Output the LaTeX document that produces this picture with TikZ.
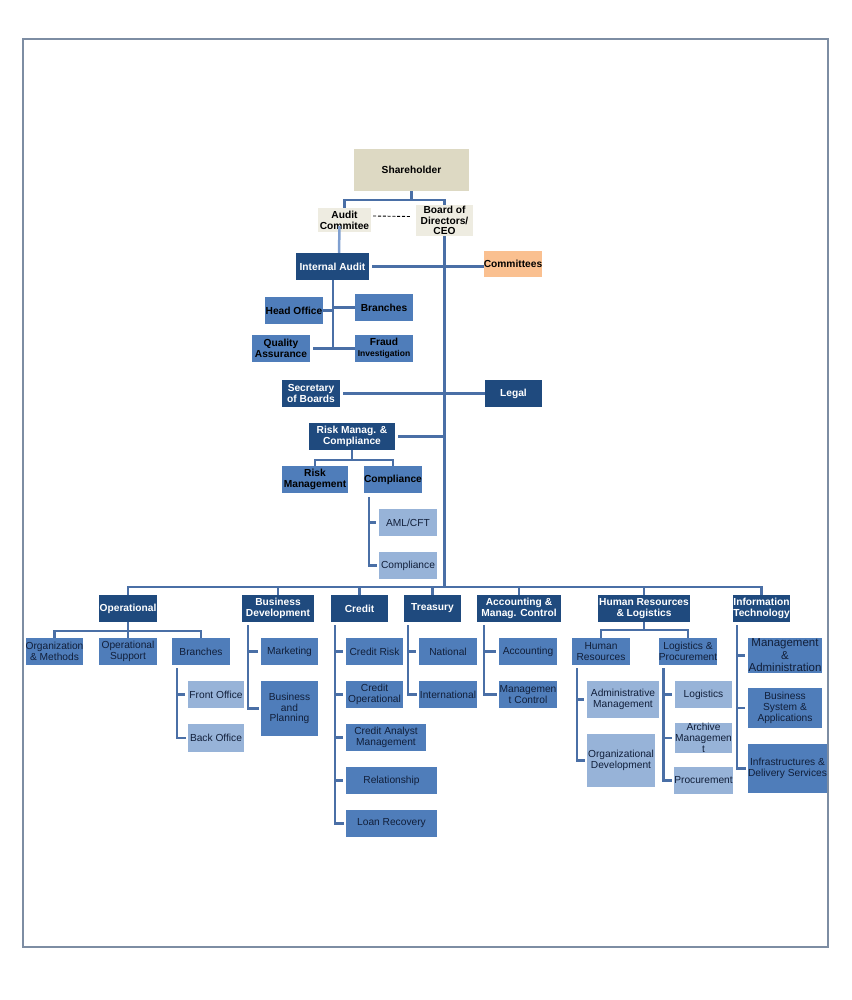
\documentclass[tikz,border=0pt]{standalone}
\usepackage{fontspec}
\setmainfont{Liberation Sans}
\usetikzlibrary{calc}
\definecolor{dk}{HTML}{1F4A7E}
\definecolor{md}{HTML}{4F7DBA}
\definecolor{lt}{HTML}{97B3D8}
\definecolor{tanc}{HTML}{DDD9C3}
\definecolor{pale}{HTML}{EEECE1}
\definecolor{orgc}{HTML}{FAC090}
\definecolor{ln}{HTML}{4A6FA6}
\definecolor{lnlt}{HTML}{7F9FD0}
\definecolor{navy}{HTML}{111F3A}
\definecolor{frm}{HTML}{7D8DA3}
\newcommand{\bxn}[7]{\node[#1, minimum width={(#5-#3)*1pt}, minimum height={(#6-#4)*1pt}] (#2) at ({(#3+#5)/2},{(#4+#6)/2}) {#7};}
\tikzset{
  box/.style={rectangle, inner sep=0pt, align=center},
  fb/.style={font=\bfseries\fontsize{10.2}{10.8}\selectfont},
  fr/.style={font=\fontsize{10.2}{10.8}\selectfont},
  topb/.style={box, fb, text=black},
  dkb/.style={box, fb, fill=dk, text=white},
  mdt/.style={box, fb, fill=md, text=black},
  mdl/.style={box, fr, fill=md, text=navy},
  ltl/.style={box, fr, fill=lt, text=navy},
  conn/.style={draw=ln, line width=2.5pt},
  stub/.style={conn, shorten <=3pt},
}
\begin{document}
\begin{tikzpicture}[x=1pt, y=-1pt]
\useasboundingbox (0,0) rectangle (851,1000);
\draw[frm, line width=1.3pt] (23,39) rectangle (828,947);

% top
\bxn{topb, fill=tanc}{sh}{354}{149}{469}{191}{Shareholder}
\bxn{topb, fill=pale}{aud}{318}{208}{371}{232}{Audit\\Commitee}
\bxn{topb, fill=pale}{brd}{416}{205}{473}{236}{Board of\\Directors/\\CEO}
\bxn{dkb}{ia}{296}{253}{369}{280}{Internal Audit}
\bxn{topb, fill=orgc}{com}{484}{251}{542}{277}{Committees}
\bxn{mdt}{ho}{265}{297}{323}{324}{Head Office}
\bxn{mdt}{br}{355}{294}{413}{321}{Branches}
\bxn{mdt}{qa}{252}{335}{310}{362}{Quality\\Assurance}
\bxn{mdt}{fri}{355}{335}{413}{362}{Fraud\\{\fontsize{8.5}{9.5}\selectfont Investigation}}
\bxn{dkb}{sec}{282}{380}{340}{407}{Secretary\\of Boards}
\bxn{dkb}{leg}{485}{380}{542}{407}{Legal}
\bxn{dkb}{rmc}{309}{423}{395}{450}{Risk Manag. \&\\Compliance}
\bxn{mdt}{rm}{282}{466}{348}{493}{Risk\\Management}
\bxn{mdt}{cp}{364}{466}{422}{493}{Compliance}
\bxn{ltl}{aml}{379}{509}{437}{536}{AML/CFT}
\bxn{ltl}{cp2}{379}{552}{437}{579}{Compliance}

% departments
\bxn{dkb}{op}{99}{595}{157}{622}{Operational}
\bxn{dkb}{bd}{242}{595}{314}{622}{Business\\Development}
\bxn{dkb}{cr}{331}{595}{388}{622}{Credit}
\bxn{dkb}{tr}{404}{595}{461}{622}{Treasury}
\bxn{dkb}{ac}{477}{595}{561}{622}{Accounting \&\\Manag. Control}
\bxn{dkb}{hr}{598}{595}{690}{622}{Human Resources\\\& Logistics}
\bxn{dkb}{it}{733}{595}{790}{622}{Information\\Technology}

% operational
\bxn{mdl}{om}{26}{638}{83}{665}{Organization\\\& Methods}
\bxn{mdl}{os}{99}{638}{157}{665}{Operational\\Support}
\bxn{mdl}{obr}{172}{638}{230}{665}{Branches}
\bxn{ltl}{fo}{188}{681}{244}{708}{Front Office}
\bxn{ltl}{bo}{188}{724}{244}{752}{Back Office}
% business development
\bxn{mdl}{mk}{261}{638}{318}{665}{Marketing}
\bxn{mdl}{bp}{261}{681}{318}{736}{Business\\and\\Planning}
% credit
\bxn{mdl}{crr}{346}{638}{403}{665}{Credit Risk}
\bxn{mdl}{cro}{346}{681}{403}{708}{Credit\\Operational}
\bxn{mdl}{cam}{346}{724}{426}{751}{Credit Analyst\\Management}
\bxn{mdl}{rel}{346}{767}{437}{794}{Relationship}
\bxn{mdl}{lr}{346}{810}{437}{837}{Loan Recovery}
% treasury
\bxn{mdl}{nat}{419}{638}{477}{665}{National}
\bxn{mdl}{int}{419}{681}{477}{708}{International}
% accounting
\bxn{mdl}{acc}{499}{638}{557}{665}{Accounting}
\bxn{mdl}{mc}{499}{681}{557}{708}{Managemen\\t Control}
% HR
\bxn{mdl}{hrr}{572}{638}{630}{665}{Human\\Resources}
\bxn{mdl}{lp}{659}{638}{717}{665}{Logistics \&\\Procurement}
\bxn{ltl}{am}{587}{681}{659}{718}{Administrative\\Management}
\bxn{ltl}{od}{587}{734}{655}{787}{Organizational\\Development}
\bxn{ltl}{lg}{675}{681}{732}{708}{Logistics}
\bxn{ltl}{arc}{675}{724}{732}{752}{Archive\\Managemen\\t}
\bxn{ltl}{pro}{675}{767}{732}{794}{Procurement}
% IT
\bxn{mdl, font=\fontsize{11.5}{12.5}\selectfont}{ma}{748}{638}{822}{673}{Management\\\&\\Administration}
\bxn{mdl}{bsa}{748}{688}{822}{728}{Business\\System \&\\Applications}
\bxn{mdl}{ids}{748}{744}{827}{793}{Infrastructures \&\\Delivery Services}

% ---- connectors ----
\draw[conn] (sh.south) -- (sh.south |- 0,200);
\draw[conn] (aud.north) -- (aud.north |- 0,200) -- (brd.north |- 0,200) -- (brd.north);
\draw[black, line width=0.9pt, dash pattern=on 3pt off 1.8pt] ($(aud.east)+(2,-4)$) -- ($(brd.west)+(-6,-4)$);
\draw[conn, draw=lnlt] ($(aud.south)+(-5,-6)$) -- ($(ia.north)+(6.5,0)$);
\coordinate (bus) at (0,587);
\draw[conn] (brd.south) -- (brd.south |- bus);
\draw[conn] ($(ia.east)+(3,0)$) -- (com.west |- ia.east);
\coordinate (iav) at ($(ia.south)+(0.5,0)$);
\draw[conn] (iav) -- ($(iav |- qa.east)+(0,1.5)$);
\draw[conn] (ho.east) -- (ho.east -| iav);
\draw[conn] (br.west) -- (br.west -| iav);
\draw[stub] (qa.east) -- (qa.east -| iav);
\draw[conn] (fri.west) -- (fri.west -| iav);
\draw[conn] ($(sec.east)+(3,0)$) -- (leg.west);
\draw[conn] ($(rmc.east)+(3,0)$) -- (rmc.east -| brd.south);
\draw[conn] (rmc.south) -- ++(0,10);
\draw[conn] (rm.north) -- ++(0,-6) -| (cp.north);
\coordinate (cpv) at ($(cp.south west)+(5,4)$);
\draw[conn] (cpv) |- ($(cp2.west)+(-2,0)$);
\draw[stub] (aml.west) -- (aml.west -| cpv);

% bus
\draw[conn] (op.north) -- (op.north |- bus) -- (it.north |- bus) -- (it.north);
\foreach \d in {bd,cr,tr,ac,hr} {\draw[conn] (\d.north) -- (\d.north |- bus);}

% operational
\draw[conn] (op.south) -- (os.north);
\draw[conn] (om.north) -- ++(0,-7) -| (obr.north);
\coordinate (obv) at ($(obr.south west)+(5,3)$);
\draw[conn, shorten >=2pt] (obv) |- (bo.west);
\draw[stub] (fo.west) -- (fo.west -| obv);
% business development
\coordinate (bdv) at ($(bd.south west)+(6,3)$);
\draw[conn, shorten >=2pt] (bdv) |- (bp.west);
\draw[stub] (mk.west) -- (mk.west -| bdv);
% credit
\coordinate (crv) at ($(cr.south west)+(4,3)$);
\draw[conn, shorten >=2pt] (crv) |- (lr.west);
\foreach \c in {crr,cro,cam,rel} {\draw[stub] (\c.west) -- (\c.west -| crv);}
% treasury
\coordinate (trv) at ($(tr.south west)+(4,3)$);
\draw[conn, shorten >=2pt] (trv) |- (int.west);
\draw[stub] (nat.west) -- (nat.west -| trv);
% accounting
\coordinate (acv) at ($(ac.south west)+(7,3)$);
\draw[conn, shorten >=2pt] (acv) |- (mc.west);
\draw[stub] (acc.west) -- (acc.west -| acv);
% HR
\draw[conn] (hr.south) -- ++(0,8);
\draw[conn] (hrr.north) -- ++(0,-8) -| (lp.north);
\coordinate (hrv) at ($(hrr.south west)+(5,3)$);
\draw[conn, shorten >=2pt] (hrv) |- (od.west);
\draw[stub] (am.west) -- (am.west -| hrv);
\coordinate (lpv) at ($(lp.south west)+(5,3)$);
\draw[conn, shorten >=2pt] (lpv) |- (pro.west);
\foreach \c in {lg,arc} {\draw[stub] (\c.west) -- (\c.west -| lpv);}
% IT
\coordinate (itv) at ($(it.south west)+(4,3)$);
\draw[conn, shorten >=2pt] (itv) |- (ids.west);
\foreach \c in {ma,bsa} {\draw[stub] (\c.west) -- (\c.west -| itv);}
\end{tikzpicture}
\end{document}
